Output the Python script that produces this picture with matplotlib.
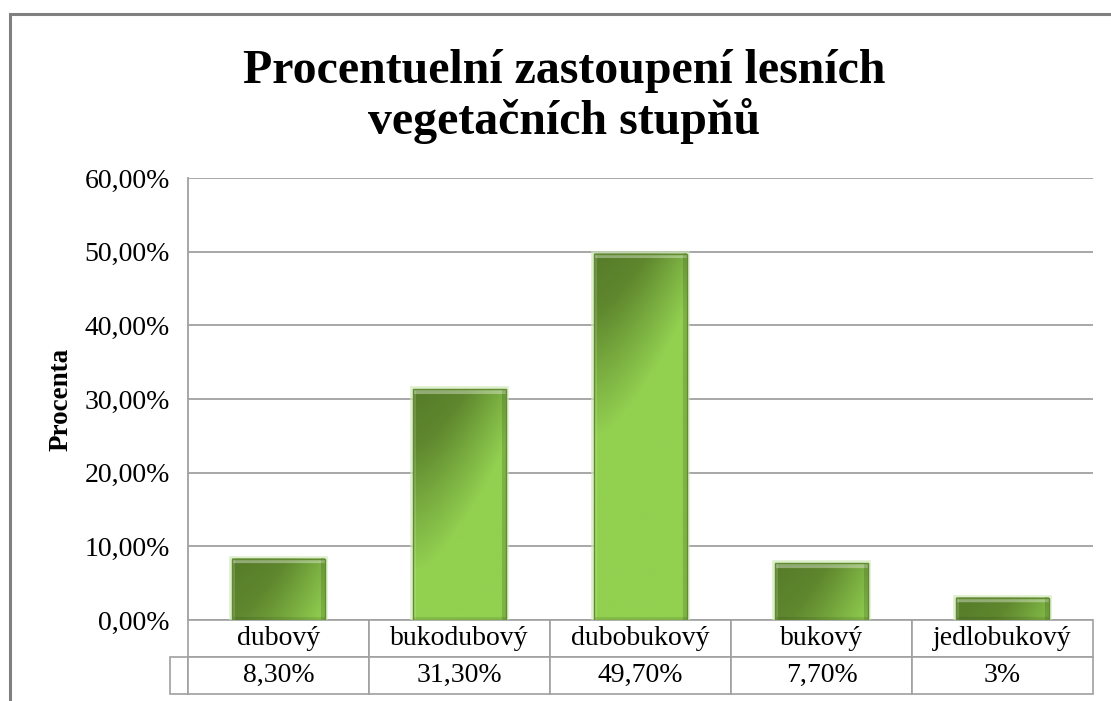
import numpy as np
import matplotlib.pyplot as plt
from matplotlib.colors import LinearSegmentedColormap
from matplotlib.ticker import FuncFormatter

plt.rcParams['font.family'] = ['Liberation Serif', 'DejaVu Serif']

categories = ['dubový', 'bukodubový', 'dubobukový', 'bukový', 'jedlobukový']
values = [8.3, 31.3, 49.7, 7.7, 3.0]
value_labels = ['8,30%', '31,30%', '49,70%', '7,70%', '3%']
y_ticks = [0, 10, 20, 30, 40, 50, 60]
title_lines = ['Procentuelní zastoupení lesních', 'vegetačních stupňů']
y_label = 'Procenta'

grid_col = '#a0a0a0'
green = LinearSegmentedColormap.from_list(
    'grn', [(0, '#577c2a'), (0.2, '#5f872e'), (0.45, '#7cb142'),
            (0.65, '#92d050'), (1, '#92d050')])

fig = plt.figure(figsize=(11.11, 7.01), dpi=100)
ax = fig.add_axes([188/1111, 81/701, 905/1111, 442/701])

x = np.arange(len(categories))
ax.set_xlim(-0.5, len(categories) - 0.5)
ax.set_ylim(0, 60)

# soft glow behind the bars
ax.bar(x, values, width=0.51, color='none', edgecolor='#cfe8b6',
       linewidth=4, alpha=0.7, zorder=2)
bars = ax.bar(x, values, width=0.51, color='none', edgecolor='#608c2f',
              linewidth=1.0, zorder=4)

# gradient fill with a light bevel on top and darker right/bottom edge
for b in bars:
    x0, y0 = b.get_x(), b.get_y()
    w, h = b.get_width(), b.get_height()
    (px0, py0), (px1, py1) = ax.transData.transform([(x0, y0), (x0 + w, y0 + h)])
    n, m = max(int(px1 - px0), 2), max(int(py1 - py0), 2)
    u = np.linspace(0, 1, n)[None, :]
    ypx = np.arange(m)[:, None]
    t = 0.45 * u ** 1.5 + ypx / 280.0
    rgb = green(np.clip(t, 0, 1))[..., :3]
    top = min(5, m // 4)
    rgb[:top] = rgb[:top] * 0.65 + 0.35
    rgb[:, :3] = rgb[:, :3] * 0.85 + 0.15
    rgb[:, -4:] *= 0.86
    rgb[-3:] *= 0.9
    ax.imshow(rgb, extent=[x0, x0 + w, y0, y0 + h], aspect='auto',
              zorder=3, interpolation='bilinear')

ax.set_xlim(-0.5, len(categories) - 0.5)
ax.set_ylim(0, 60)
ax.set_yticks(y_ticks)
ax.yaxis.set_major_formatter(FuncFormatter(lambda v, p: f'{v:.2f}'.replace('.', ',') + '%'))
ax.tick_params(axis='y', length=0, pad=13, labelsize=20)
ax.set_xticks([])
ax.grid(axis='y', color=grid_col, linewidth=1.3)
ax.set_axisbelow(True)
for s in ['top', 'right', 'bottom']:
    ax.spines[s].set_visible(False)
ax.spines['left'].set_color(grid_col)
ax.spines['left'].set_linewidth(1.3)

ax.set_ylabel(y_label, fontsize=19.5, fontweight='bold')
ax.yaxis.set_label_coords(-0.127, 0.5)

# data table under the axis
tab = ax.table(cellText=[value_labels], colLabels=categories,
               colWidths=[0.2] * len(categories), cellLoc='center',
               bbox=[0, -74/442, 1, 74/442])
tab.add_cell(1, -1, width=0.2 * 18/181, height=tab[(1, 0)].get_height(), text='')
tab.auto_set_font_size(False)
tab.set_fontsize(20)
for cell in tab.get_celld().values():
    cell.set_edgecolor(grid_col)
    cell.set_linewidth(1.2)

fig.text(0.5077, 1 - 83/701, title_lines[0], ha='center', va='baseline',
         fontsize=34.5, fontweight='bold')
fig.text(0.5077, 1 - 134/701, title_lines[1], ha='center', va='baseline',
         fontsize=34.5, fontweight='bold')

fig.add_artist(plt.Rectangle((10/1111, -0.05), 1.1, 1.05 - 14/701,
                             transform=fig.transFigure, fill=False,
                             edgecolor='#808080', linewidth=2.2))

fig.savefig('out.png', dpi=100)
